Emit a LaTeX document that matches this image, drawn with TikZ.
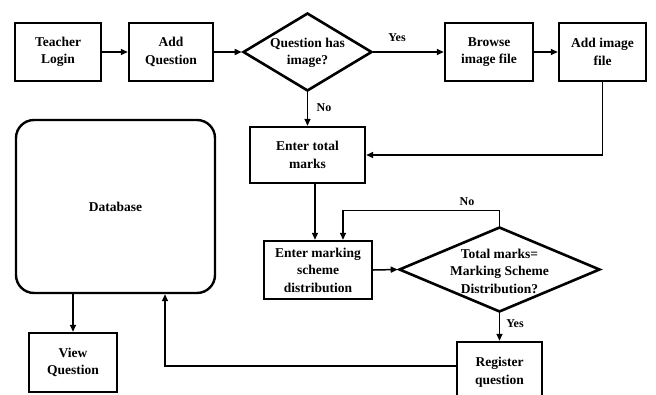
\documentclass[tikz,border=0pt]{standalone}
\usepackage{fontspec}
\setmainfont{Liberation Serif}
\usetikzlibrary{shapes.geometric,arrows.meta,calc}
\begin{document}
\begin{tikzpicture}[x=1pt,y=-1pt,
  every node/.style={font=\fontsize{13.5}{17.5}\selectfont\bfseries, align=center, inner sep=0pt},
  box/.style={draw, line width=2.4pt, rectangle},
  decide/.style={draw, line width=2.6pt, diamond},
  arr/.style={line width=1.5pt, -{Triangle[length=7pt,width=6pt]}},
  lbl/.style={font=\fontsize{12}{14}\selectfont\bfseries}]
\useasboundingbox (0,0) rectangle (656,394);
\clip (0,0) rectangle (656,394);

% process boxes and decisions
\node[box, minimum width=86pt, minimum height=58pt] (teacher) at (58,52) {Teacher\\Login};
\node[box, minimum width=84pt, minimum height=58pt] (addq) at (171,52) {Add\\Question};
\node[decide, minimum width=129pt, minimum height=78pt] (hasimg) at (307.5,52) {};
\node (hasimgtxt) at (307.5,53) {Question has\\image?};
\node[box, minimum width=88pt, minimum height=58pt] (browse) at (489,52) {Browse\\image file};
\node[box, minimum width=87pt, minimum height=58pt] (addimg) at (602.5,52) {Add image\\file};
\node[box, minimum width=115pt, minimum height=56pt] (total) at (307.5,155) {Enter total\\marks};
\node[box, minimum width=108pt, minimum height=58pt] (marking) at (318,270) {Enter marking\\scheme\\distribution};
\node[decide, minimum width=201pt, minimum height=85pt] (check) at (499.5,269.5) {};
\node (checktxt) at (499.5,271) {Total marks=\\Marking Scheme\\Distribution?};
\node[box, minimum width=85pt, minimum height=60pt] (register) at (499.5,372) {Register\\question};
\node[draw, line width=2.4pt, rounded corners=18pt, minimum width=199pt, minimum height=173pt] (db) at (115.5,206.5) {Database};
\node[box, minimum width=88pt, minimum height=59pt] (view) at (73,362.5) {View\\Question};

% connectors
\draw[arr] (teacher) -- (addq);
\draw[arr] (addq) -- (hasimg.west);
\draw[arr] (hasimg.east) -- (browse.west);
\node[lbl] (yes1) at (397,38) {Yes};
\draw[arr] (browse) -- (addimg);
\draw[arr] (hasimg.south) -- (total.north);
\node[lbl] (no1) at (324,108) {No};
\draw[arr] (addimg.south) |- (total.east);
\coordinate (mk) at ([xshift=-3pt]marking.north);
\draw[arr] (total.south -| mk) -- (mk);
\draw[arr] (marking.east) -- (check.west);
\coordinate (fb) at ([xshift=25pt]marking.north);
\draw[arr] (check.north) -- ++(0,-15) -| (fb);
\node[lbl] (no2) at (467,202) {No};
\draw[arr] (check.south) -- (register.north);
\node[lbl] (yes2) at (515,324) {Yes};
\coordinate (rg) at ([yshift=6pt]register.west);
\draw[arr] (rg) -| (db.south -| 165,0);
\draw[arr] (db.south -| view.north) -- (view.north);
\end{tikzpicture}
\end{document}
